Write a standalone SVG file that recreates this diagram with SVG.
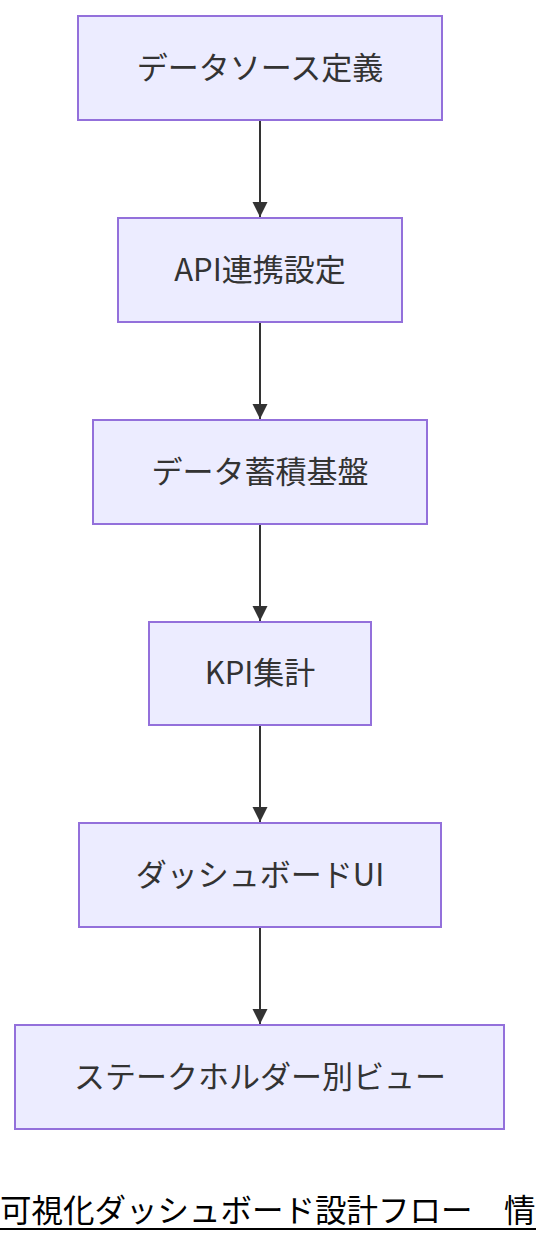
<svg xmlns="http://www.w3.org/2000/svg" width="536" height="1244" viewBox="0 0 536 1244">
<style>
.box{fill:#ECECFF;stroke:#9370DB;stroke-width:2}
.lbl{font-family:"Noto Sans CJK JP","Noto Sans",sans-serif;font-size:31px;fill:#333;text-anchor:middle;dominant-baseline:central}
.edge{stroke:#333;stroke-width:2;fill:none}
.cap{font-family:"Noto Sans CJK JP",sans-serif;font-size:31.5px;fill:#000}
</style>
<defs>
<marker id="arr" viewBox="0 0 10 10" refX="10" refY="5" markerWidth="15" markerHeight="16" markerUnits="userSpaceOnUse" orient="auto">
<path d="M0,0 L10,5 L0,10 z" fill="#333"/>
</marker>
</defs>
<rect width="536" height="1244" fill="#fff"/>
<g id="edges">
<line class="edge" x1="260" y1="120" x2="260" y2="217" marker-end="url(#arr)"/>
<line class="edge" x1="260" y1="322" x2="260" y2="419" marker-end="url(#arr)"/>
<line class="edge" x1="260" y1="524" x2="260" y2="621" marker-end="url(#arr)"/>
<line class="edge" x1="260" y1="725" x2="260" y2="822" marker-end="url(#arr)"/>
<line class="edge" x1="260" y1="927" x2="260" y2="1024" marker-end="url(#arr)"/>
</g>
<g id="n1"><rect class="box" x="78" y="16" width="364" height="104"/><text class="lbl" x="260" y="65">データソース定義</text></g>
<g id="n2"><rect class="box" x="118" y="218" width="284" height="104"/><text class="lbl" x="260" y="267">API連携設定</text></g>
<g id="n3"><rect class="box" x="93" y="420" width="334" height="104"/><text class="lbl" x="260" y="469">データ蓄積基盤</text></g>
<g id="n4"><rect class="box" x="149" y="622" width="222" height="103"/><text class="lbl" x="260" y="670">KPI集計</text></g>
<g id="n5"><rect class="box" x="79" y="823" width="362" height="104"/><text class="lbl" x="260" y="872">ダッシュボードUI</text></g>
<g id="n6"><rect class="box" x="15" y="1025" width="489" height="104"/><text class="lbl" x="260" y="1074">ステークホルダー別ビュー</text></g>
<g id="caption">
<text class="cap" x="0" y="1222">可視化ダッシュボード設計フロー　情</text>
<line x1="0" y1="1229" x2="536" y2="1229" stroke="#000" stroke-width="2"/>
</g>
</svg>
